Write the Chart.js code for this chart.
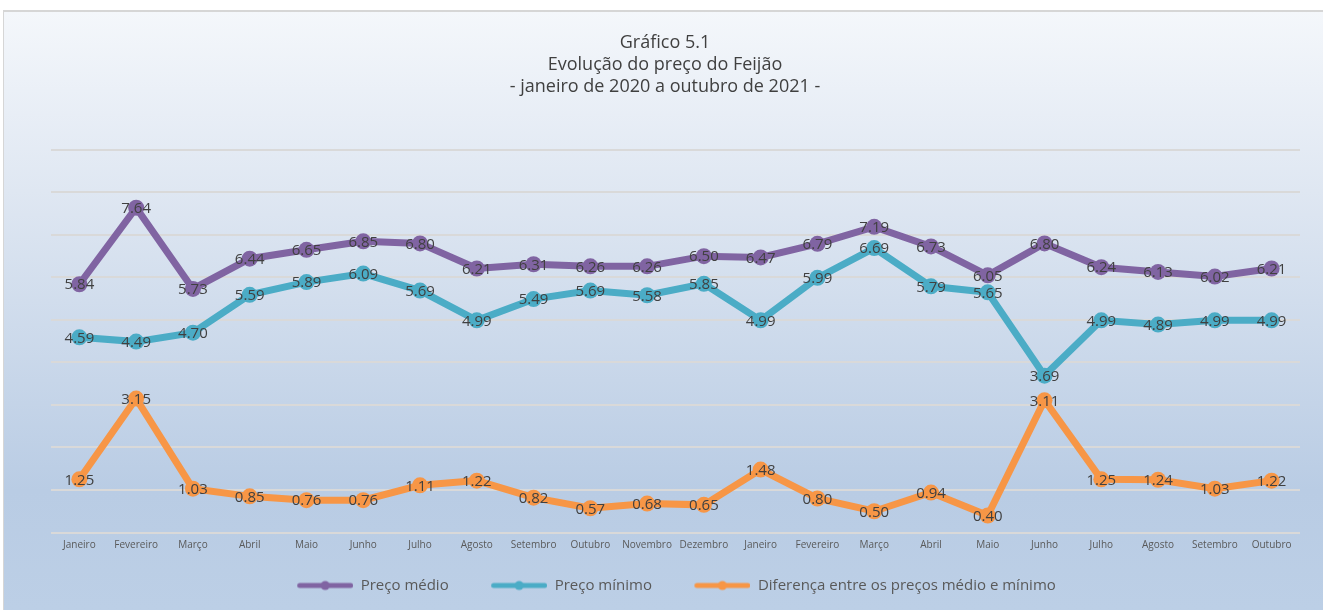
<!DOCTYPE html>
<html>
<head>
<meta charset="utf-8">
<script src="https://cdn.jsdelivr.net/npm/chart.js@4/dist/chart.umd.min.js"></script>
<style>
  html, body { margin: 0; padding: 0; background: #fff; }
  #box {
    position: absolute; left: 3px; top: 10px; width: 1320px; height: 600px;
    border-top: 2px solid #d6d6d6; border-left: 1px solid #d6d6d6; box-sizing: border-box;
    background: linear-gradient(to bottom, #f4f7fb 0%, #dfe7f2 30%, #b9cce4 80%, #bccfe6 100%);
  }
  #chart { width: 1319px; height: 598px; }
</style>
</head>
<body>
<div id="box"><canvas id="chart" width="1319" height="598"></canvas></div>
<script>
const months = ['Janeiro', 'Fevereiro', 'Março', 'Abril', 'Maio', 'Junho', 'Julho', 'Agosto', 'Setembro', 'Outubro', 'Novembro', 'Dezembro',
                'Janeiro', 'Fevereiro', 'Março', 'Abril', 'Maio', 'Junho', 'Julho', 'Agosto', 'Setembro', 'Outubro'];
const precoMedio = [5.84, 7.64, 5.73, 6.44, 6.65, 6.85, 6.80, 6.21, 6.31, 6.26, 6.26, 6.50, 6.47, 6.79, 7.19, 6.73, 6.05, 6.80, 6.24, 6.13, 6.02, 6.21];
const precoMinimo = [4.59, 4.49, 4.70, 5.59, 5.89, 6.09, 5.69, 4.99, 5.49, 5.69, 5.58, 5.85, 4.99, 5.99, 6.69, 5.79, 5.65, 3.69, 4.99, 4.89, 4.99, 4.99];
const diferenca = [1.25, 3.15, 1.03, 0.85, 0.76, 0.76, 1.11, 1.22, 0.82, 0.57, 0.68, 0.65, 1.48, 0.80, 0.50, 0.94, 0.40, 3.11, 1.25, 1.24, 1.03, 1.22];
const titleLines = ['Gráfico 5.1', 'Evolução do preço do Feijão', '- janeiro de 2020 a outubro de 2021 -'];

const font = "'Open Sans', 'DejaVu Sans', sans-serif";

// legend marker: line with a dot in the middle, with empty space on the left
// so the items sit further apart than the legend padding alone gives
const markGap = 21;
const markW = markGap + 58;
function legendMark(color) {
  let c = document.createElement('canvas');
  c.width = markW; c.height = 12;
  let g = c.getContext('2d');
  g.strokeStyle = color; g.lineWidth = 5; g.lineCap = 'round';
  g.beginPath(); g.moveTo(markGap + 4.5, 6); g.lineTo(markW - 2.5, 6); g.stroke();
  g.fillStyle = color;
  g.beginPath(); g.arc(markGap + 30, 6, 4.5, 0, Math.PI * 2); g.fill();
  return c;
}

const valueLabels = {
  id: 'valueLabels',
  afterDatasetsDraw(chart) {
    let ctx = chart.ctx;
    ctx.save();
    ctx.font = '15px ' + font;
    ctx.fillStyle = '#404040';
    ctx.textAlign = 'center';
    ctx.textBaseline = 'middle';
    chart.data.datasets.forEach((ds, i) => {
      chart.getDatasetMeta(i).data.forEach((pt, j) => {
        ctx.fillText(ds.data[j].toFixed(2), pt.x, pt.y + 1);
      });
    });
    ctx.restore();
  }
};

function series(label, data, color) {
  return {
    label: label, data: data,
    borderColor: color, backgroundColor: color,
    borderWidth: 7, pointRadius: 8, pointHoverRadius: 8,
    pointBackgroundColor: color, pointBorderWidth: 0,
    tension: 0
  };
}

new Chart(document.getElementById('chart').getContext('2d'), {
  type: 'line',
  data: {
    labels: months,
    datasets: [
      series('Preço médio', precoMedio, '#8064a2'),
      series('Preço mínimo', precoMinimo, '#4bacc6'),
      series('Diferença entre os preços médio e mínimo', diferenca, '#f79646')
    ]
  },
  options: {
    responsive: false,
    animation: false,
    layout: { padding: { left: 26, right: 23, top: 0, bottom: 7 } },
    scales: {
      x: {
        offset: true,
        grid: { display: false, drawTicks: false },
        border: { display: false },
        ticks: { color: '#595959', font: { family: font, size: 10 }, maxRotation: 0, autoSkip: false, padding: 7 },
        afterFit(s) { s.height = 26; }
      },
      y: {
        min: 0, max: 9,
        ticks: { display: false, stepSize: 1 },
        border: { display: false },
        grid: { color: '#d9d9d9', lineWidth: 2, drawTicks: false },
        afterFit(s) { s.width = 21; }
      }
    },
    plugins: {
      title: {
        display: true,
        text: titleLines,
        color: '#404040',
        font: { family: font, size: 18, weight: 'normal', lineHeight: 1.22 },
        padding: { top: 20, bottom: 52 }
      },
      legend: {
        position: 'bottom',
        labels: {
          usePointStyle: true, pointStyleWidth: markW,
          color: '#595959', font: { family: font, size: 15 },
          padding: 19.5, boxHeight: 12,
          generateLabels(chart) {
            return chart.data.datasets.map((ds, i) => ({
              text: ds.label, fontColor: '#595959',
              pointStyle: legendMark(ds.borderColor), lineWidth: 0,
              strokeStyle: ds.borderColor, fillStyle: ds.borderColor,
              datasetIndex: i, hidden: false
            }));
          }
        }
      },
      tooltip: { enabled: false }
    }
  },
  plugins: [valueLabels]
});
</script>
</body>
</html>
